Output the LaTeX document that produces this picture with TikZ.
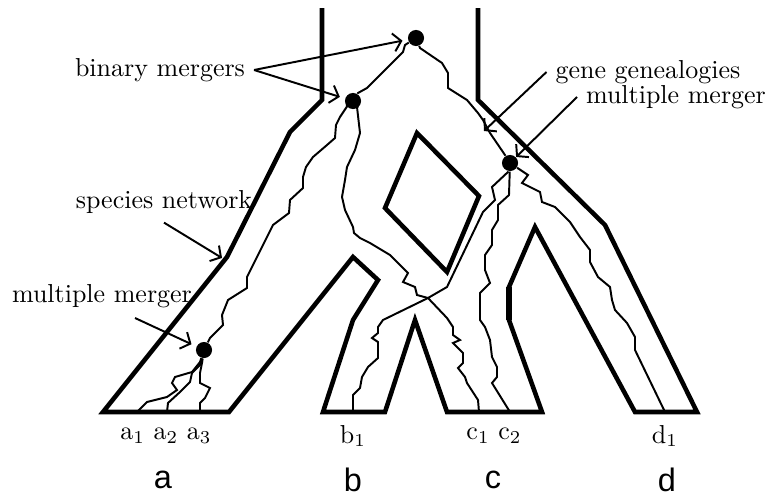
\documentclass[tikz,border=0pt]{standalone}
\usepackage{fontspec}
\newfontfamily\popfont{Liberation Sans}
\usetikzlibrary{arrows.meta}
\tikzset{
  species/.style={line width=1.75pt, line join=miter},
  gene/.style={line width=0.75pt, line join=miter},
  merge/.style={circle, fill=black, inner sep=0pt, minimum size=6.2pt},
  lab/.style={font=\normalsize, inner sep=3.3pt},
  arr/.style={line width=0.75pt, -{Straight Barb[length=3pt,width=7pt]}},
  leaf/.style={font=\normalsize, inner sep=1pt},
  pop/.style={font=\popfont\fontsize{12.5}{15}\selectfont, inner sep=1pt},
}

\begin{document}
\begin{tikzpicture}[x=0.385pt, y=-0.385pt]
\useasboundingbox (0,0) rectangle (770,495);

% Species network
\draw[species] (322,8) -- (322,100) -- (290,132) -- (227,257) -- (103,412) -- (229,412)
  -- (353,257) -- (378,280) -- (353,320) -- (323,412) -- (385,412) -- (415,320) -- (447,412)
  -- (542,412) -- (509,320) -- (509,287) -- (535,227) -- (635,412) -- (697,412)
  -- (605,225) -- (478,100) -- (478,8);
\draw[species] (417,133) -- (479,196) -- (447,272) -- (385,208) -- cycle;
\draw[line width=2.6pt] (509,287) -- (509,320);

% Mergers
\node[merge] (mtop) at (416,38) {};
\node[merge] (mbin) at (353,101) {};
\node[merge] (mright) at (510,163) {};
\node[merge] (mleft) at (204,350) {};

% Samples
\coordinate (a1) at (137,412);
\coordinate (a2) at (167,412);
\coordinate (a3) at (200,412);
\coordinate (b1) at (353,412);
\coordinate (c1) at (479,412);
\coordinate (c2) at (510,412);
\coordinate (d1) at (665,412);

% Gene genealogies
\draw[gene] (mtop) -- (405,45) -- (403,52) -- (367,88) -- (358,93) -- (mbin);
\draw[gene] (mtop) -- (420,48) -- (442,63) -- (448,73) -- (448,88) -- (467,100) -- (478,113)
  -- (483,120) -- (490,133) -- (505,155) -- (mright);
\draw[gene] (mbin) -- (348,105) -- (340,117) -- (336,125) -- (335,138) -- (327,145) -- (313,157)
  -- (306,167) -- (303,177) -- (303,188) -- (290,200) -- (289,213) -- (273,225) -- (247,277)
  -- (247,288) -- (228,300) -- (222,315) -- (223,325) -- (210,338) -- (mleft);
\draw[gene] (mbin) -- (357,107) -- (360,133) -- (355,150) -- (347,167) -- (345,180) -- (342,197)
  -- (345,210) -- (353,227) -- (354,233) -- (360,238) -- (370,243) -- (390,255) -- (408,273)
  -- (403,282) -- (415,287) -- (417,295) -- (428,298) -- (447,318) -- (453,327) -- (453,335)
  -- (460,340) -- (453,343) -- (463,353) -- (463,363) -- (458,368) -- (465,377) -- (467,383)
  -- (478,400) -- (c1);
\draw[gene] (mright) -- (508,172) -- (492,187) -- (495,200) -- (483,212) -- (447,287) -- (428,298)
  -- (383,320) -- (378,327) -- (378,333) -- (372,338) -- (378,342) -- (378,358) -- (368,367)
  -- (362,377) -- (360,388) -- (353,395) -- (b1);
\draw[gene] (mright) -- (509,195) -- (498,205) -- (498,220) -- (492,230) -- (492,245) -- (485,255)
  -- (485,270) -- (490,283) -- (480,293) -- (480,320) -- (485,327) -- (490,340) -- (492,357)
  -- (497,367) -- (497,377) -- (492,383) -- (c2);
\draw[gene] (mright) -- (528,175) -- (522,183) -- (540,192) -- (542,202) -- (555,207) -- (570,222)
  -- (580,237) -- (590,250) -- (590,262) -- (598,277) -- (610,287) -- (612,300) -- (615,310)
  -- (627,323) -- (635,337) -- (635,350) -- (d1);
\draw[gene] (mleft) -- (200,362) -- (192,372) -- (175,377) -- (172,383) -- (177,390) -- (167,397)
  -- (147,402) -- (a1);
\draw[gene] (mleft) -- (200,365) -- (192,373) -- (190,382) -- (180,392) -- (168,403) -- (a2);
\draw[gene] (mleft) -- (202,363) -- (200,373) -- (200,383) -- (210,388) -- (205,398) -- (200,403)
  -- (a3);

% Labels and pointers
\node[lab] (lbin) at (160,70) {binary mergers};
\node[lab] (lsp) at (164,202) {species network};
\node[lab] (llmm) at (102,296) {multiple merger};
\node[lab] (lgg) at (648,72) {gene genealogies};
\node[lab] (lrmm) at (676,97) {multiple merger};
\coordinate (spt) at (222,258);
\coordinate (lmtail) at (135,318);
\coordinate (ggpt) at (484,131);

\draw[arr, shorten >=2pt] (lbin.east) -- (mtop);
\draw[arr, shorten >=2pt] (lbin.east) -- (mbin);
\draw[arr] (lsp.south) -- (spt);
\draw[arr, shorten >=2pt] (lmtail) -- (mleft);
\draw[arr] (lgg.west) -- (ggpt);
\draw[arr] (lrmm.west) -- (mright);

% Sample and population names
\node[leaf] (sa) at (166,436) {a$_1$ a$_2$ a$_3$};
\node[leaf] (sb) at (353,436) {b$_1$};
\node[leaf] (sc) at (494,436) {c$_1$ c$_2$};
\node[leaf] (sd) at (665,436) {d$_1$};
\node[pop] (pa) at (163,480) {a};
\node[pop] (pb) at (353,480) {b};
\node[pop] (pc) at (493,480) {c};
\node[pop] (pd) at (667,480) {d};
\end{tikzpicture}
\end{document}
